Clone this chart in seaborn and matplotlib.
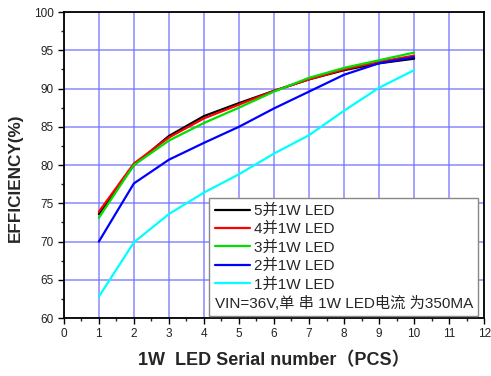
import matplotlib
matplotlib.use("Agg")
import matplotlib.pyplot as plt
from matplotlib.lines import Line2D
from matplotlib.ticker import MultipleLocator
import pandas as pd
import seaborn as sns

# LED count in series per string
pcs = [1, 2, 3, 4, 5, 6, 7, 8, 9, 10]

# Efficiency (%) for each number of parallel strings
eff_5p = [73.6, 80.0, 83.8, 86.4, 88.1, 89.7, 91.2, 92.4, 93.3, 93.9]
eff_4p = [73.9, 80.2, 83.6, 86.1, 87.9, 89.7, 91.2, 92.5, 93.5, 94.3]
eff_3p = [73.1, 80.0, 83.2, 85.5, 87.5, 89.6, 91.4, 92.7, 93.7, 94.7]
eff_2p = [70.0, 77.6, 80.7, 82.9, 85.0, 87.4, 89.6, 91.8, 93.3, 94.1]
eff_1p = [62.8, 69.9, 73.6, 76.4, 78.8, 81.5, 83.9, 87.1, 90.1, 92.4]

series_names = ["5并1W LED", "4并1W LED", "3并1W LED", "2并1W LED", "1并1W LED"]
series_values = [eff_5p, eff_4p, eff_3p, eff_2p, eff_1p]
series_colors = ["#000000", "#ff0000", "#00e000", "#0000ff", "#00ffff"]
note_text = "VIN=36V,单 串 1W LED电流 为350MA"

x_ticks = list(range(0, 13))
y_ticks = list(range(60, 101, 5))

rows = []
for name, vals in zip(series_names, series_values):
    for x, v in zip(pcs, vals):
        rows.append({"PCS": x, "Efficiency": v, "Series": name})
df = pd.DataFrame(rows)

sns.set_style("white")
plt.rcParams["font.family"] = ["Liberation Sans", "Noto Sans CJK SC", "DejaVu Sans"]

fig = plt.figure(figsize=(4.91, 3.76), dpi=100)
ax = fig.add_axes([0.130, 0.154, 0.856, 0.814])

sns.lineplot(data=df, x="PCS", y="Efficiency", hue="Series",
             hue_order=series_names, palette=dict(zip(series_names, series_colors)),
             linewidth=1.6, legend=False, ax=ax, zorder=3)

ax.set_xlim(0, 12)
ax.set_ylim(60, 100)
ax.set_xticks(x_ticks)
ax.set_yticks(y_ticks)
ax.xaxis.set_minor_locator(MultipleLocator(0.5))
ax.yaxis.set_minor_locator(MultipleLocator(2.5))
ax.tick_params(axis="both", which="major", direction="out", length=4, width=1,
               labelsize=8.5, colors="#000000", pad=3,
               bottom=True, left=True, top=False, right=False)
ax.tick_params(axis="both", which="minor", direction="out", length=2.5, width=1,
               bottom=True, left=True, top=False, right=False)
ax.tick_params(axis="both", labelcolor="#222222")

ax.grid(True, which="major", color="#7070ff", alpha=0.75, linewidth=1.2)
ax.set_axisbelow(True)
for sp in ax.spines.values():
    sp.set_color("#000000")
    sp.set_linewidth(1.3)

ax.set_xlabel("1W  LED Serial number（PCS）", fontsize=13, fontweight="bold", labelpad=9)
ax.set_ylabel("EFFICIENCY(%)", fontsize=12.3, fontweight="bold")
ax.yaxis.set_label_coords(-0.098, 0.46)

handles = [Line2D([], [], color=c, linewidth=1.6) for c in series_colors]
handles.append(Line2D([], [], color="none"))
labels = series_names + [note_text]
leg = ax.legend(handles, labels, loc="lower right", bbox_to_anchor=(0.9857, 0.0065),
                fontsize=11, frameon=True, fancybox=False, edgecolor="#888888",
                framealpha=1, borderaxespad=0.0, handlelength=2.3,
                handletextpad=0.3, labelspacing=0.27, borderpad=0.35)
leg.get_frame().set_linewidth(1.0)
leg.set_zorder(5)

# the last legend row is a note: drop its empty handle so the text starts at the left edge
col = leg._legend_handle_box.get_children()[0]
last_row = col.get_children()[-1]
last_row.get_children().pop(0)

fig.savefig("out.png", dpi=100)
